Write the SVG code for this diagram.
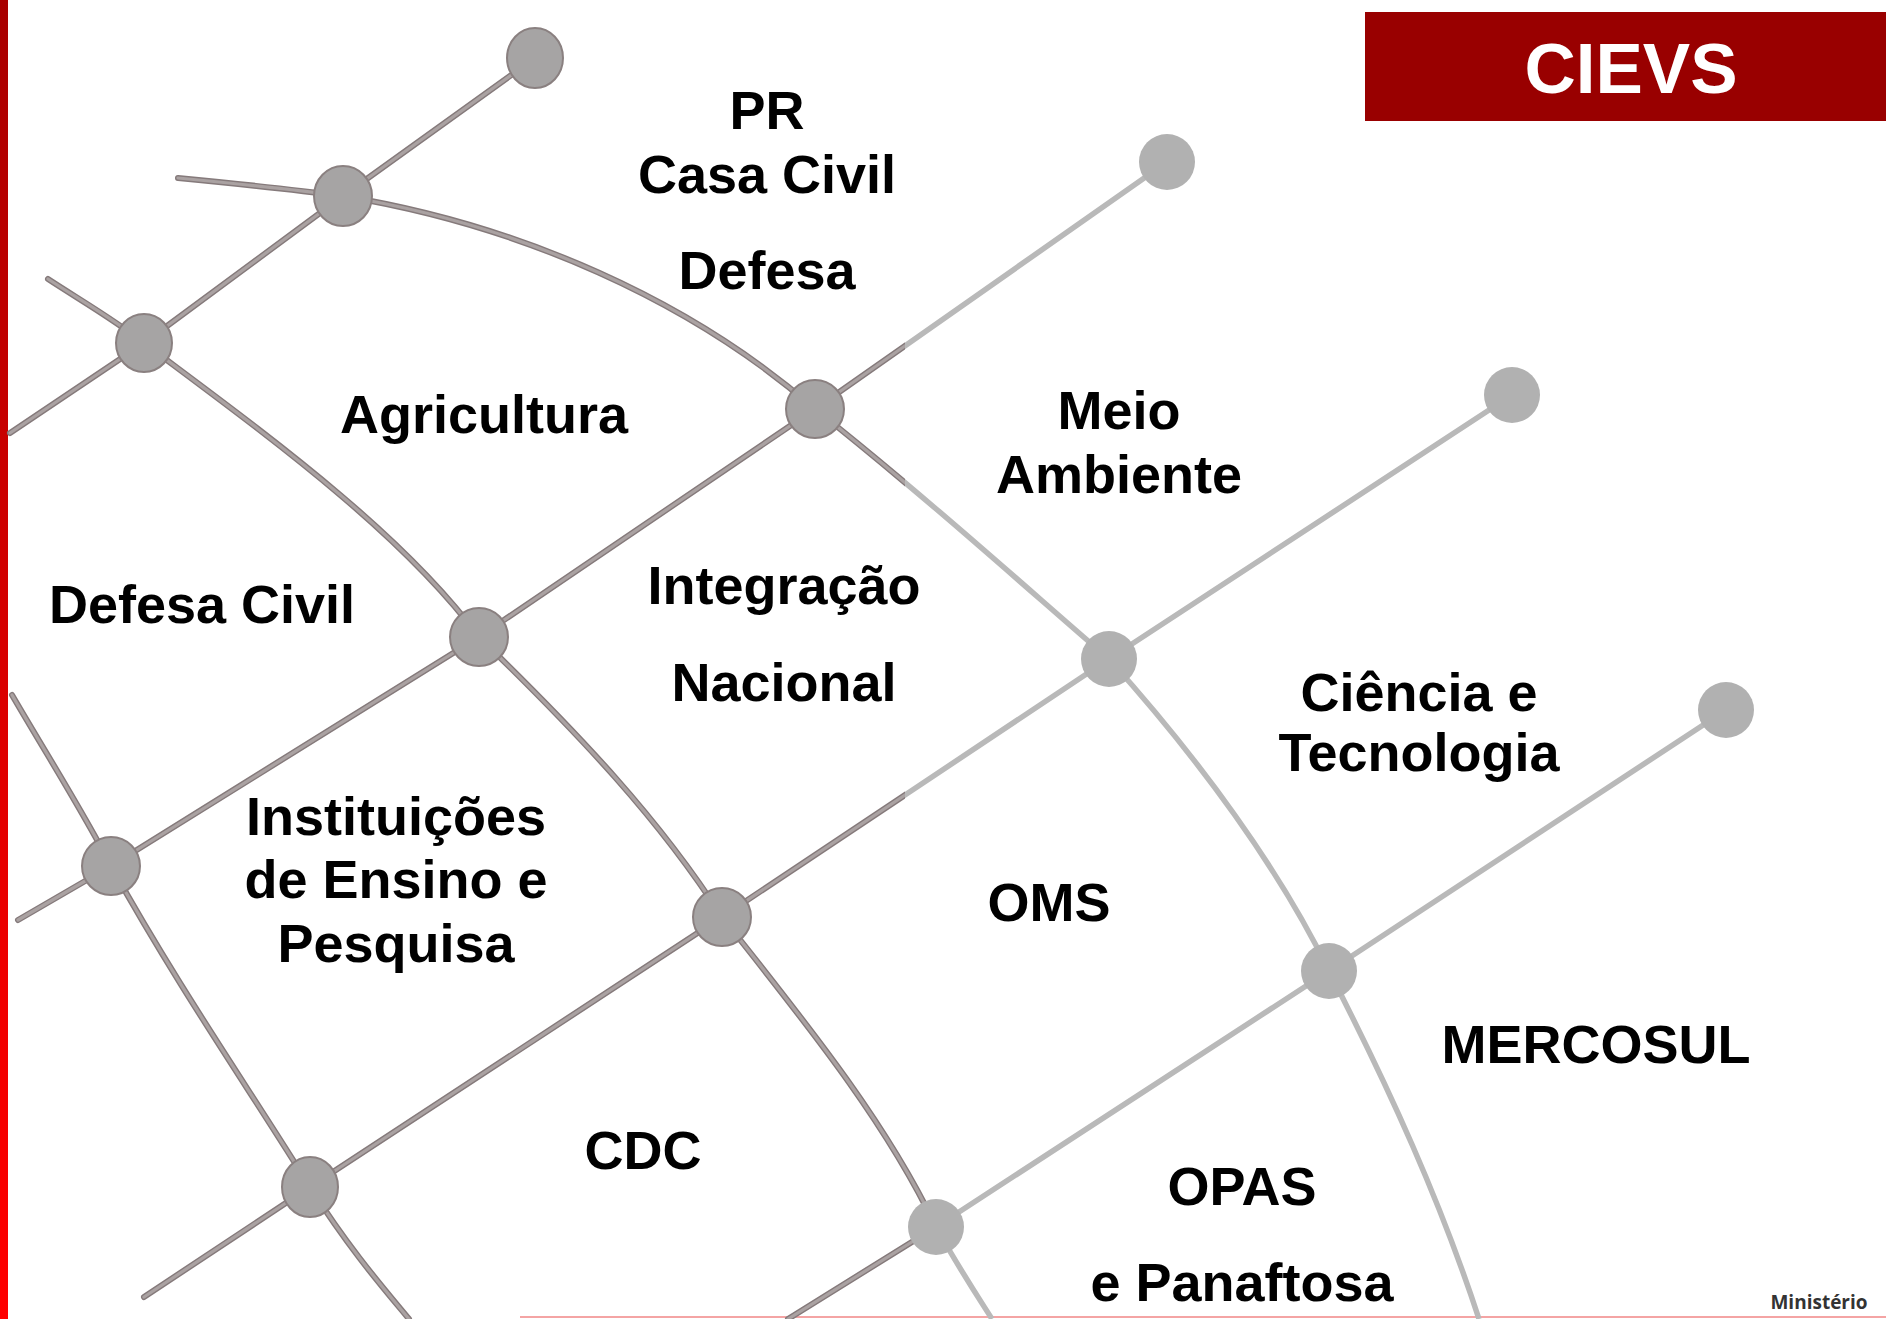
<svg xmlns="http://www.w3.org/2000/svg" width="1886" height="1319" viewBox="0 0 1886 1319">
<style>
.lbl{font-family:"Liberation Sans",Arial,sans-serif;font-weight:bold;font-size:54px;fill:#000;text-anchor:middle}
.dk-o{fill:none;stroke:#857a7b;stroke-width:6;stroke-linecap:round;stroke-linejoin:round}
.dk-i{fill:none;stroke:#aaa2a2;stroke-width:3.2;stroke-linecap:round;stroke-linejoin:round}
.lt{fill:none;stroke:#b9b9b9;stroke-width:5.5;stroke-linejoin:round}
.nd{fill:#a6a4a4;stroke:#8a8080;stroke-width:2}
.nl{fill:#b1b1b1}
</style>
<defs>
<linearGradient id="bar" x1="0" y1="0" x2="0" y2="1">
<stop offset="0" stop-color="#a80000"/>
<stop offset="0.75" stop-color="#f00000"/>
<stop offset="1" stop-color="#ff0000"/>
</linearGradient>
<clipPath id="cl"><polygon points="0,0 905,0 905,850 940,1319 0,1319"/></clipPath>
<clipPath id="cr"><polygon points="905,0 1886,0 1886,1319 940,1319 905,850"/></clipPath>
<path id="L1" d="M535,58 L343,196 L144,343 L10,433"/>
<path id="L2" d="M1167,162 L815,409 L479,637 L111,866 L18,920"/>
<path id="L3" d="M1512,395 L1109,659 L722,917 L310,1187 L144,1297"/>
<path id="L4" d="M1726,710 L1329,971 L936,1227 L788,1319"/>
<path id="A1" d="M178,178 C240,184 290,189 343,196 C520,225 690,300 815,409 C930,500 1040,600 1109,659 C1200,760 1280,870 1329,971 C1390,1090 1440,1200 1479,1319"/>
<path id="A2" d="M48,279 C80,300 115,320 144,343 C260,430 400,530 479,637 C580,735 660,820 722,917 C820,1040 890,1130 936,1227 C960,1270 980,1300 992,1319"/>
<path id="A3" d="M12,695 C50,760 85,815 111,866 C180,990 250,1090 310,1187 C350,1250 385,1290 409,1319"/>
</defs>
<rect x="0" y="0" width="1886" height="1319" fill="#fff"/>
<rect x="0" y="0" width="8" height="1319" fill="url(#bar)"/>
<line x1="520" y1="1317" x2="1886" y2="1317" stroke="#f4a4a4" stroke-width="2"/>
<g id="connectors">
<g clip-path="url(#cl)">
<use href="#L1" class="dk-o"/><use href="#L2" class="dk-o"/><use href="#L3" class="dk-o"/><use href="#L4" class="dk-o"/>
<use href="#A1" class="dk-o"/><use href="#A2" class="dk-o"/><use href="#A3" class="dk-o"/>
<use href="#L1" class="dk-i"/><use href="#L2" class="dk-i"/><use href="#L3" class="dk-i"/><use href="#L4" class="dk-i"/>
<use href="#A1" class="dk-i"/><use href="#A2" class="dk-i"/><use href="#A3" class="dk-i"/>
</g>
<g clip-path="url(#cr)">
<use href="#L2" class="lt"/><use href="#L3" class="lt"/><use href="#L4" class="lt"/>
<use href="#A1" class="lt"/><use href="#A2" class="lt"/>
</g>
</g>
<g id="n1"><ellipse cx="535" cy="58" rx="28" ry="30" class="nd"/></g>
<g id="n2"><ellipse cx="343" cy="196" rx="29" ry="30" class="nd"/></g>
<g id="n3"><ellipse cx="144" cy="343" rx="28" ry="29" class="nd"/></g>
<g id="n4"><ellipse cx="815" cy="409" rx="29" ry="29" class="nd"/></g>
<g id="n5"><ellipse cx="1167" cy="162" rx="28" ry="28" class="nl"/></g>
<g id="n6"><ellipse cx="479" cy="637" rx="29" ry="29" class="nd"/></g>
<g id="n7"><ellipse cx="1512" cy="395" rx="28" ry="28" class="nl"/></g>
<g id="n8"><ellipse cx="1109" cy="659" rx="28" ry="28" class="nl"/></g>
<g id="n9"><ellipse cx="111" cy="866" rx="29" ry="29" class="nd"/></g>
<g id="n10"><ellipse cx="722" cy="917" rx="29" ry="29" class="nd"/></g>
<g id="n11"><ellipse cx="1726" cy="710" rx="28" ry="28" class="nl"/></g>
<g id="n12"><ellipse cx="1329" cy="971" rx="28" ry="28" class="nl"/></g>
<g id="n13"><ellipse cx="310" cy="1187" rx="28" ry="30" class="nd"/></g>
<g id="n14"><ellipse cx="936" cy="1227" rx="28" ry="28" class="nl"/></g>
<g id="labels">
<text class="lbl" x="767" y="129">PR</text>
<text class="lbl" x="767" y="193">Casa Civil</text>
<text class="lbl" x="767" y="289">Defesa</text>
<text class="lbl" x="484" y="433">Agricultura</text>
<text class="lbl" x="1119" y="429">Meio</text>
<text class="lbl" x="1119" y="493">Ambiente</text>
<text class="lbl" x="202" y="623">Defesa Civil</text>
<text class="lbl" x="784" y="604">Integração</text>
<text class="lbl" x="784" y="701">Nacional</text>
<text class="lbl" x="1419" y="711">Ciência e</text>
<text class="lbl" x="1419" y="771">Tecnologia</text>
<text class="lbl" x="396" y="835">Instituições</text>
<text class="lbl" x="396" y="898">de Ensino e</text>
<text class="lbl" x="396" y="962">Pesquisa</text>
<text class="lbl" x="1049" y="921">OMS</text>
<text class="lbl" x="1596" y="1063">MERCOSUL</text>
<text class="lbl" x="643" y="1169">CDC</text>
<text class="lbl" x="1242" y="1205">OPAS</text>
<text class="lbl" x="1242" y="1301">e Panaftosa</text>
</g>
<g id="cievs">
<rect x="1365" y="12" width="521" height="109" fill="#990000"/>
<text x="1631" y="93" font-family="Liberation Sans,Arial,sans-serif" font-weight="bold" font-size="71" fill="#fff" text-anchor="middle">CIEVS</text>
</g>
<text x="1819" y="1309" font-family="Open Sans,Liberation Sans,sans-serif" font-weight="bold" font-size="19" fill="#333" text-anchor="middle">Ministério</text>
</svg>
